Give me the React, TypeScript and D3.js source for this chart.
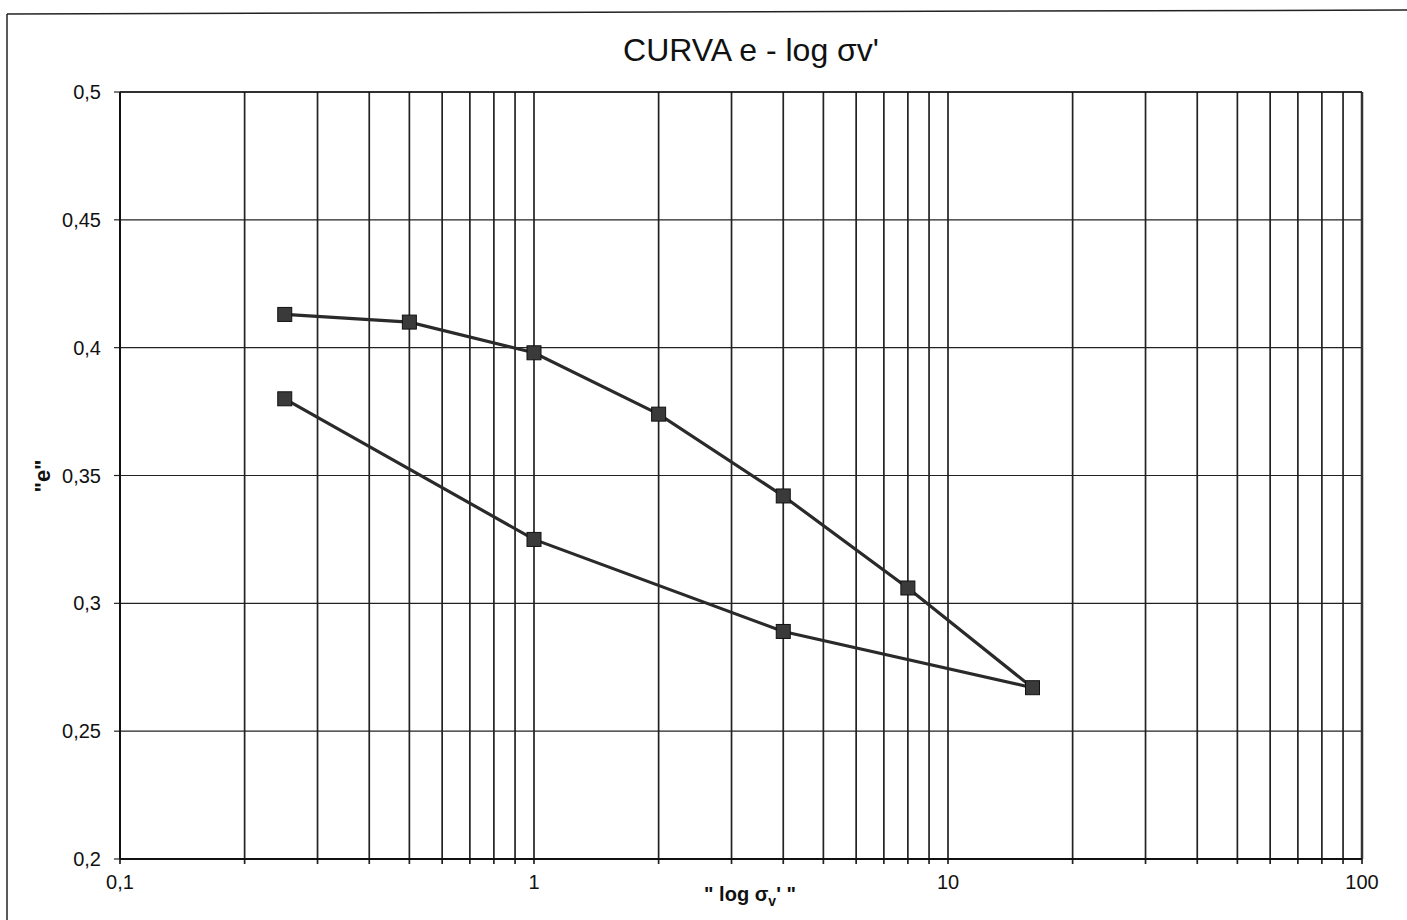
import React from "react";
import * as d3 from "d3";

const loadX = [0.25, 0.5, 1, 2, 4, 8, 16];
const loadE = [0.413, 0.41, 0.398, 0.374, 0.342, 0.306, 0.267];
const unloadX = [16, 4, 1, 0.25];
const unloadE = [0.267, 0.289, 0.325, 0.38];
const yTicks = [0.2, 0.25, 0.3, 0.35, 0.4, 0.45, 0.5];
const xLabelTicks = [0.1, 1, 10, 100];

const W = 1407;
const H = 920;
const left = 120;
const right = 1362;
const top = 92;
const bottom = 859;

export default function App() {
  const x = d3.scaleLog().domain([0.1, 100]).range([left, right]);
  const y = d3.scaleLinear().domain([0.2, 0.5]).range([bottom, top]);

  const minor: number[] = [];
  for (const dec of [0.1, 1, 10]) {
    for (let k = 1; k <= 9; k++) minor.push(dec * k);
  }
  minor.push(100);

  const pts: [number, number][] = [
    ...loadX.map((v, i) => [v, loadE[i]] as [number, number]),
    ...unloadX.slice(1).map((v, i) => [v, unloadE[i + 1]] as [number, number]),
  ];
  const line = d3
    .line<[number, number]>()
    .x((d) => x(d[0]))
    .y((d) => y(d[1]));

  const fmt = (v: number) => String(+v.toFixed(2)).replace(".", ",");
  const ms = 14;

  return (
    <svg
      width={W}
      height={H}
      style={{ position: "absolute", left: 0, top: 0, background: "#fff" }}
      fontFamily="Liberation Sans, Arial, sans-serif"
    >
      <rect x={0} y={0} width={W} height={H} fill="#fff" />
      {/* frame */}
      <line x1={7} y1={14} x2={W} y2={10} stroke="#222" strokeWidth={1.5} />
      <line x1={7} y1={14} x2={7} y2={H} stroke="#222" strokeWidth={1.5} />

      <text x={751} y={61} textAnchor="middle" fontSize={32} fill="#111">
        CURVA e - log σv'
      </text>

      {/* horizontal gridlines */}
      {yTicks.map((t) => (
        <g key={"y" + t}>
          <line x1={left} x2={right} y1={y(t)} y2={y(t)} stroke="#222" strokeWidth={1.2} />
          <line x1={left - 6} x2={left} y1={y(t)} y2={y(t)} stroke="#222" strokeWidth={1.2} />
          <text x={101} y={y(t) + 7} textAnchor="end" fontSize={20} fill="#111">
            {fmt(t)}
          </text>
        </g>
      ))}

      {/* vertical gridlines */}
      {minor.map((t) => (
        <line key={"x" + t} x1={x(t)} x2={x(t)} y1={top} y2={bottom + 5} stroke="#222" strokeWidth={1.7} />
      ))}
      <line x1={left} x2={left} y1={top} y2={bottom} stroke="#111" strokeWidth={2} />
      <line x1={right} x2={right} y1={top} y2={bottom} stroke="#333" strokeWidth={2.5} />
      <line x1={left} x2={right} y1={bottom} y2={bottom} stroke="#111" strokeWidth={2} />
      <line x1={left} x2={right} y1={top} y2={top} stroke="#111" strokeWidth={1.6} />

      {xLabelTicks.map((t) => (
        <text key={"xl" + t} x={x(t)} y={bottom + 30} textAnchor="middle" fontSize={20} fill="#111">
          {fmt(t)}
        </text>
      ))}

      <text x={750} y={901} textAnchor="middle" fontSize={20} fontWeight="bold" fill="#111">
        {'" log σ'}
        <tspan fontSize={14} dy={5}>v</tspan>
        <tspan dy={-5}>{"' \""}</tspan>
      </text>

      <text
        transform={`translate(50,476) rotate(-90)`}
        textAnchor="middle"
        fontSize={22}
        fontWeight="bold"
        fill="#111"
      >
        "e"
      </text>

      <path d={line(pts) || ""} fill="none" stroke="#2a2a2a" strokeWidth={3.2} />
      {pts.map((d, i) => (
        <rect
          key={"m" + i}
          x={x(d[0]) - ms / 2}
          y={y(d[1]) - ms / 2}
          width={ms}
          height={ms}
          fill="#3a3a3a"
          stroke="#111"
          strokeWidth={1}
        />
      ))}
    </svg>
  );
}
